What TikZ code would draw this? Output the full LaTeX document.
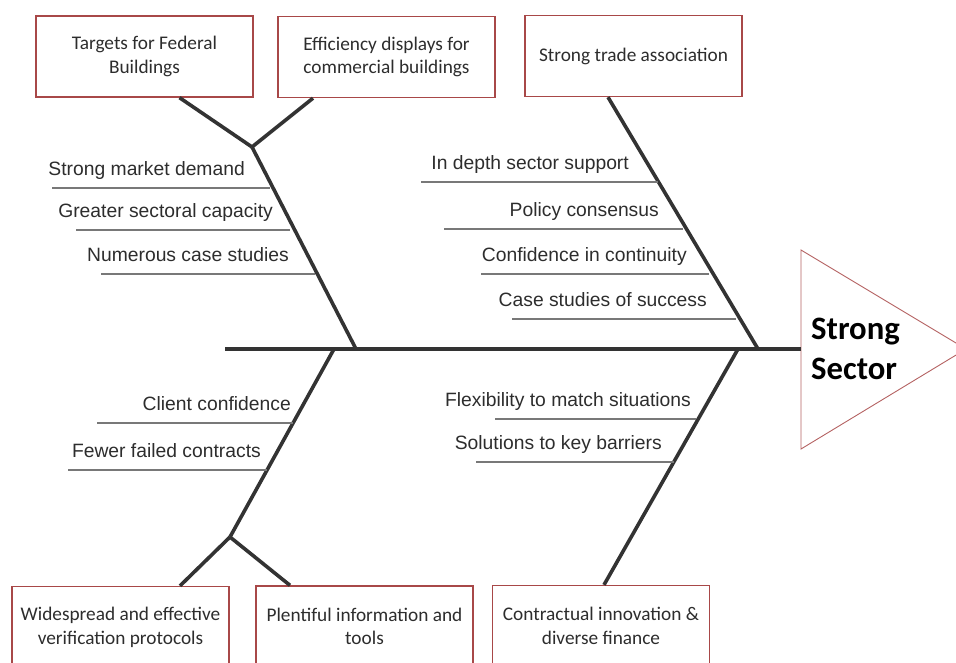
\documentclass[tikz,border=0pt]{standalone}
\usepackage{fontspec}
\setmainfont{Carlito}
\newfontfamily\ribfont{Liberation Sans}
\usepackage{tikz}
\usetikzlibrary{positioning}
\definecolor{boxred}{RGB}{168,72,72}
\definecolor{bonegray}{RGB}{51,51,51}
\definecolor{ribgray}{RGB}{120,120,120}
\definecolor{txtgray}{RGB}{45,45,45}

\begin{document}
\begin{tikzpicture}[x=1pt,y=-1pt]
  % Define styles for the fishbone
  \tikzset{
    causebox/.style={
      draw=boxred,
      line width=1.3pt,
      fill=white,
      minimum width=217pt,
      minimum height=81pt,
      inner sep=0pt,
      align=center,
      text=txtgray,
      font=\fontsize{19.3}{23.7}\selectfont
    },
    bone/.style={
      draw=bonegray,
      line width=3.6pt
    },
    rib/.style={
      draw=ribgray,
      line width=2.6pt
    },
    riblabel/.style={
      inner sep=0pt,
      text=txtgray,
      font=\ribfont\fontsize{19.3}{23}\selectfont
    }
  }
  \useasboundingbox (0,0) rectangle (956,662);
  \clip (0,0) rectangle (956,662);

  % Cause boxes
  \node[causebox] (b1) at (144.5,56.5) {Targets for Federal\\Buildings};
  \node[causebox] (b2) at (386.5,57) {Efficiency displays for\\commercial buildings};
  \node[causebox] (b3) at (633.5,56) {Strong trade association};
  \node[causebox] (b4) at (120.5,627) {Widespread and effective\\verification protocols};
  \node[causebox] (b5) at (364.5,626.5) {Plentiful information and\\tools};
  \node[causebox] (b6) at (601,626) {Contractual innovation \&\\diverse finance};

  % Spine and joints
  \coordinate (tail) at (225,349);
  \coordinate (tip) at (801,349);
  \coordinate (jT) at (252,147);
  \coordinate (jB) at (230,537);
  \coordinate (sA) at (356,349);
  \coordinate (sB) at (334,349);
  \coordinate (sC) at (758,349);
  \coordinate (sD) at (738,349);

  % Effect head
  \draw[draw=boxred!85, line width=0.9pt, fill=white] (tip) -- (801,250) -- (966,349) -- (801,449) -- cycle;
  \node[anchor=west, inner sep=0pt, align=left,
        font=\bfseries\fontsize{32.7}{40}\selectfont] (head) at (811,349) {Strong\\Sector};

  % Draw bones
  \draw[bone] (tail) -- (tip);
  \draw[bone] ([xshift=35]b1.south) -- (jT);
  \draw[bone] ([xshift=-73.5]b2.south) -- (jT);
  \draw[bone] (jT) -- (sA);
  \draw[bone] ([xshift=-25.5]b3.south) -- (sC);
  \draw[bone] (sB) -- (jB);
  \draw[bone] (jB) -- ([xshift=59.5]b4.north);
  \draw[bone] (jB) -- ([xshift=-74.5]b5.north);
  \draw[bone] (sD) -- ([xshift=3]b6.north);

  % Draw ribs with their labels
  \foreach \xl/\xr/\y/\tx/\txt [count=\i] in {
      52/270/188/245/Strong market demand,
      76/290/230/273/Greater sectoral capacity,
      101/315/274/289/Numerous case studies,
      421/658/182/629/In depth sector support,
      444/683/229/659/Policy consensus,
      481/709/274/687/Confidence in continuity,
      512/736/319/707/Case studies of success,
      97/293/423/291/Client confidence,
      68/267/470/261/Fewer failed contracts,
      495/696/419/691/Flexibility to match situations,
      476/674/462/662/Solutions to key barriers} {
    \coordinate (r\i a) at (\xl,\y);
    \coordinate (r\i b) at (\xr,\y);
    \draw[rib] (r\i a) -- (r\i b);
    \node[riblabel, anchor=base east] (l\i) at (\tx,\y-13) {\txt};
  }
\end{tikzpicture}
\end{document}
